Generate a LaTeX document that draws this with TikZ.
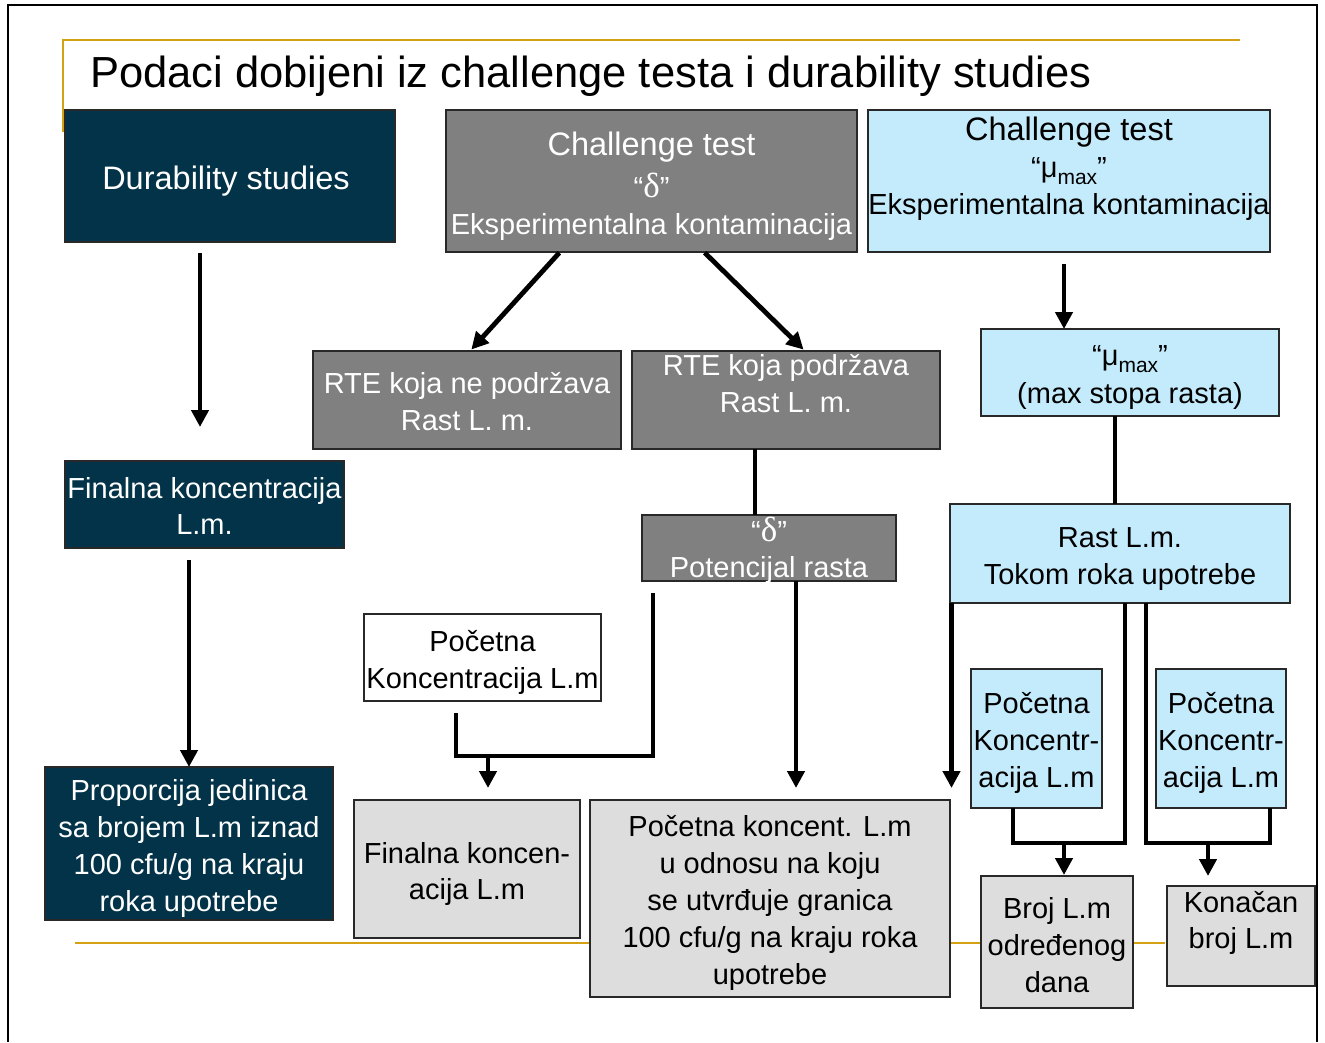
\documentclass[tikz,border=0pt]{standalone}
\usepackage{fontspec}
\setmainfont{Liberation Sans}
\newfontfamily\serifgr{Liberation Serif}
\usetikzlibrary{arrows.meta}
\definecolor{navy}{RGB}{3,51,72}
\definecolor{midgray}{RGB}{128,128,128}
\definecolor{lblue}{RGB}{196,235,252}
\definecolor{lgray}{RGB}{221,221,221}
\definecolor{gold}{RGB}{212,160,20}
\definecolor{edge}{RGB}{40,40,40}
% #1 width, #2 height, #3 first baseline offset, #4 baselineskip, #5 text
\newcommand\bt[5]{\parbox[c][#2pt][t]{#1pt}{\fontsize{29}{#4pt}\selectfont\centering\rule{0pt}{#3pt}#5\par}}
\newcommand\mumax{“μ\raisebox{-7pt}{\fontsize{21}{21}\selectfont max}”}
\newcommand\dlt{“{\serifgr\fontsize{35}{37}\selectfont δ}”}
\tikzset{
  box/.style={draw=edge, line width=1.2pt, inner sep=0pt, outer sep=0pt, anchor=north west},
  navybox/.style={box, fill=navy, text=white},
  graybox/.style={box, fill=midgray, text=white},
  bluebox/.style={box, fill=lblue, text=black},
  lgraybox/.style={box, fill=lgray, text=black},
  whitebox/.style={box, fill=white, text=black},
  ln/.style={line width=4.8pt, black, line join=miter},
  arr/.style={ln, -{Triangle[length=17pt,width=17pt]}},
  goldline/.style={gold, line width=2.5pt},
}
\begin{document}
\begin{tikzpicture}[x=1pt,y=-1pt]
\useasboundingbox (0,0) rectangle (1325,1042);
\fill[white] (0,0) rectangle (1325,1042);
% frame
\draw[black, line width=2pt] (8,1042) -- (8,5) -- (1317,5) -- (1317,1042);
% gold rules
\draw[goldline] (63,132) -- (63,40) -- (1240,40);
\draw[goldline] (75,943) -- (1165,943);
% title
\node[anchor=base west, inner sep=0pt, font=\fontsize{43.5}{50}\selectfont] (title) at (90,87) {Podaci dobijeni iz challenge testa i durability studies};
% boxes
\node[navybox, minimum width=330pt, minimum height=132pt] (dur) at (65,110)
  {\bt{330}{132}{79}{37}{\hspace*{-8pt}\fontsize{32.5}{37}\selectfont Durability studies}};
\node[graybox, minimum width=411pt, minimum height=142pt] (ctg) at (446,110)
  {\bt{411}{142}{45}{37}{{\fontsize{32.5}{37}\selectfont Challenge test}\\[5pt]\dlt\\Eksperimentalna kontaminacija}};
\node[bluebox, minimum width=402pt, minimum height=142pt] (lbc) at (868,110)
  {\bt{402}{142}{30}{37}{{\fontsize{32.5}{37}\selectfont Challenge test}\\\mumax\\Eksperimentalna kontaminacija}};
\node[navybox, minimum width=279pt, minimum height=87pt] (fin) at (65,461)
  {\bt{279}{87}{37}{36}{Finalna koncentracija\\L.m.}};
\node[navybox, minimum width=288pt, minimum height=153pt] (prop) at (45,767)
  {\bt{288}{153}{33}{37}{Proporcija jedinica\\sa brojem L.m iznad\\100 cfu/g na kraju\\roka upotrebe}};
\node[graybox, minimum width=308pt, minimum height=98pt] (rteno) at (313,351)
  {\bt{308}{98}{42}{37}{RTE koja ne podržava\\Rast L. m.}};
\node[graybox, minimum width=308pt, minimum height=98pt] (rteyes) at (632,351)
  {\bt{308}{98}{24}{37}{RTE koja podržava\\Rast L. m.}};
\node[graybox, minimum width=254pt, minimum height=66pt] (delta) at (642,515)
  {\bt{254}{66}{26}{36}{\dlt\\Potencijal rasta}};
\node[whitebox, minimum width=237pt, minimum height=87pt] (pw) at (364,614)
  {\bt{237}{87}{37}{37}{Početna\\Koncentracija L.m}};
\node[lgraybox, minimum width=226pt, minimum height=138pt] (fk) at (354,800)
  {\bt{226}{138}{63}{36}{Finalna koncen-\\acija L.m}};
\node[lgraybox, minimum width=360pt, minimum height=197pt] (pk) at (590,800)
  {\bt{360}{197}{36}{37}{Početna koncent. L.m\\u odnosu na koju\\se utvrđuje granica\\100 cfu/g na kraju roka\\upotrebe}};
\node[bluebox, minimum width=298pt, minimum height=87pt] (mu) at (981,329)
  {\bt{298}{87}{36}{38}{\mumax\\(max stopa rasta)}};
\node[bluebox, minimum width=340pt, minimum height=99pt] (rast) at (950,504)
  {\bt{340}{99}{43}{37}{Rast L.m.\\Tokom roka upotrebe}};
\node[bluebox, minimum width=131pt, minimum height=139pt] (pc1) at (971,669)
  {\bt{131}{139}{44}{37}{Početna\\Koncentr-\\acija L.m}};
\node[bluebox, minimum width=130pt, minimum height=139pt] (pc2) at (1156,669)
  {\bt{130}{139}{44}{37}{Početna\\Koncentr-\\acija L.m}};
\node[lgraybox, minimum width=152pt, minimum height=132pt] (broj) at (981,876)
  {\bt{152}{132}{42}{37}{Broj L.m\\određenog\\dana}};
\node[lgraybox, minimum width=148pt, minimum height=100pt] (kon) at (1167,886)
  {\bt{148}{100}{26}{36}{Konačan\\broj L.m}};
% connectors
\coordinate (a1) at ([xshift=-30pt]dur.south);
\draw[arr, shorten <=11pt, shorten >=34pt] (a1) -- (a1 |- fin.north);
\coordinate (a2) at ([xshift=-15.5pt]fin.south);
\draw[arr, shorten <=12pt] (a2) -- (a2 |- prop.north);
\draw[arr, shorten <=1pt, shorten >=2pt] ([xshift=-91.5pt]ctg.south) -- ([xshift=3pt]rteno.north);
\draw[arr, shorten <=1pt, shorten >=2pt] ([xshift=52.5pt]ctg.south) -- ([xshift=19pt]rteyes.north);
\coordinate (a3) at ([xshift=-31pt]rteyes.south);
\draw[ln] (a3) -- (a3 |- delta.north);
\coordinate (a4) at ([xshift=27pt]delta.south);
\draw[arr, shorten >=12pt] (a4) -- (a4 |- pk.north);
\coordinate (a5) at ([xshift=-26.5pt]pw.south);
\coordinate (jA) at (653,756);
\coordinate (a6) at ([xshift=-116pt]delta.south);
\draw[ln, shorten <=12pt, shorten >=12pt] (a5) |- (jA) -- (a6);
\coordinate (jB) at (488,756);
\draw[arr, shorten >=12pt] (jB) -- (jB |- fk.north);
\coordinate (a7) at ([xshift=-5pt]lbc.south);
\draw[arr, shorten <=12pt] (a7) -- (a7 |- mu.north);
\coordinate (a8) at ([xshift=-15pt]mu.south);
\draw[ln] (a8) -- (a8 |- rast.north);
\coordinate (a9) at ([xshift=1.5pt]rast.south west);
\draw[arr, shorten >=12pt] (a9) -- (a9 |- pk.north);
\coordinate (b1) at ([xshift=5pt]rast.south);
\coordinate (jC) at (1064,843);
\coordinate (b2) at ([xshift=-23.5pt]pc1.south);
\draw[ln] (b1) |- (jC) -| (b2);
\draw[arr, shorten >=1pt] (jC) -- (jC |- broj.north);
\coordinate (b3) at ([xshift=26pt]rast.south);
\coordinate (jD) at (1208,843);
\coordinate (b4) at ([xshift=49pt]pc2.south);
\draw[ln] (b3) |- (jD) -| (b4);
\draw[arr, shorten >=10pt] (jD) -- (jD |- kon.north);
\end{tikzpicture}
\end{document}
